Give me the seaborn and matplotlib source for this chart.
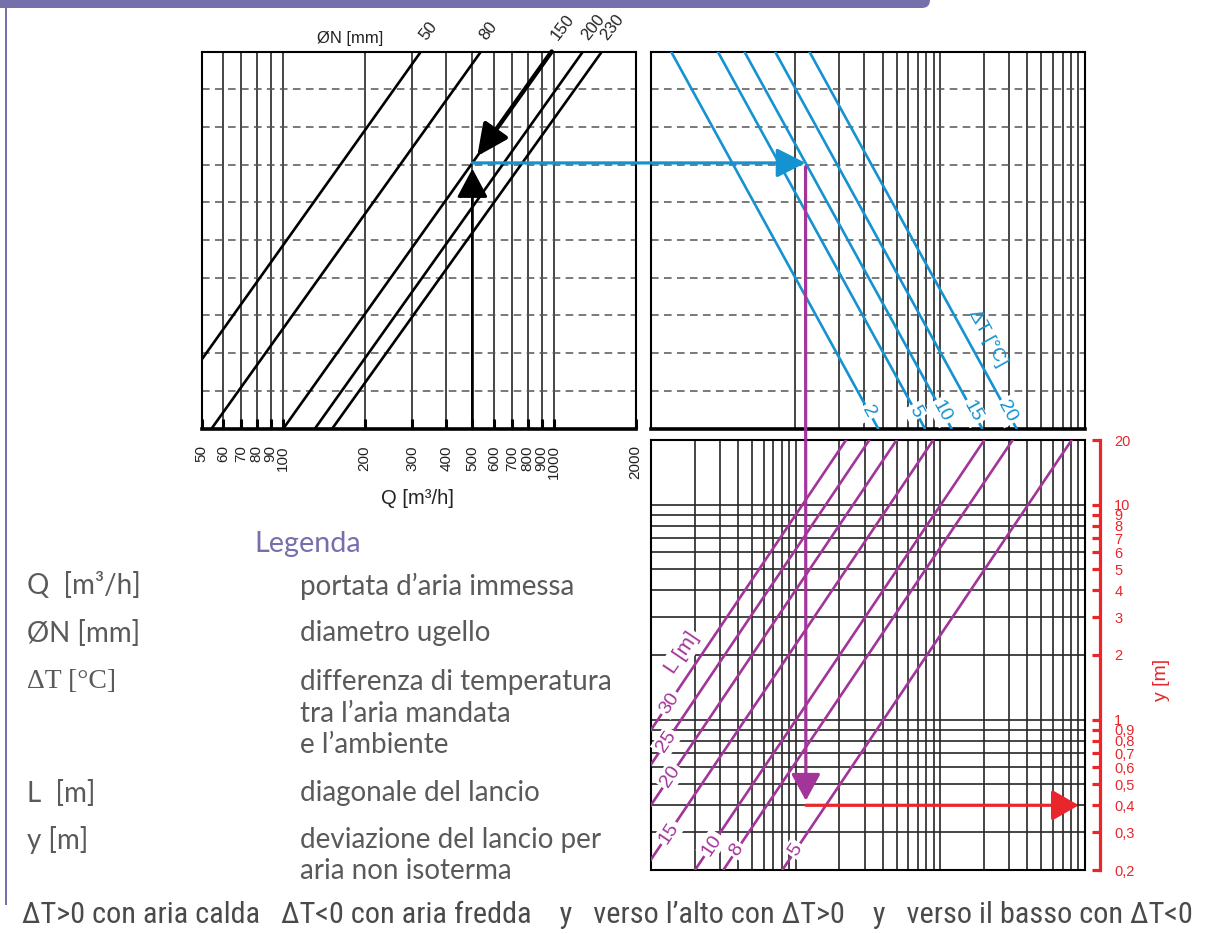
import numpy as np
import pandas as pd
import matplotlib
matplotlib.use("Agg")
import matplotlib.pyplot as plt
import seaborn as sns
from matplotlib.patches import ConnectionPatch, FancyBboxPatch, Rectangle
from matplotlib.ticker import NullLocator
from matplotlib import font_manager

# ---------------- data ----------------
# top-left: nozzle diameter lines, Q where each line meets the top (u=10) and bottom (u=0) edge
N_labels = ["50", "80", "150", "200", "230"]
N_Q_top = [323, 538, 981, 1280, 1504]
N_Q_bottom = [33.0, 54.5, 100.3, 131.2, 152.0]
Q_ticks = [50, 60, 70, 80, 90, 100, 200, 300, 400, 500, 600, 700, 800, 900, 1000, 2000]

# top-right: temperature-difference lines (x at top edge / bottom edge)
dT_labels = ["2", "5", "10", "15", "20"]
dT_x_top = [1.386, 2.911, 4.444, 7.240, 12.49]
dT_x_bottom = [37.3, 78.4, 119.7, 195.1, 336.5]

# bottom-right: throw-length lines (x at y=20 and at y=0.2)
L_labels = ["30", "25", "20", "15", "10", "8", "5"]
L_x_top = [22.3, 32.3, 49.9, 89.4, 201.4, 316.3, 809.0]
L_x_bottom = [0.223, 0.323, 0.499, 0.894, 2.014, 3.163, 8.09]
L_label_y = [1.196, 0.79, 0.543, 0.297, 0.261, 0.248, 0.248]

y_ticks = [20, 10, 9, 8, 7, 6, 5, 4, 3, 2, 1, 0.9, 0.8, 0.7, 0.6, 0.5, 0.4, 0.3, 0.2]
y_tick_labels = ["20", "10", "9", "8", "7", "6", "5", "4", "3", "2", "1",
                 "0,9", "0,8", "0,7", "0,6", "0,5", "0,4", "0,3", "0,2"]

grid_top_right = [10, 20, 30, 40, 50, 60, 70, 80, 90, 100, 200, 300, 400, 500, 600, 700, 800, 900]
grid_bottom_x = [2, 3, 4, 5, 6, 7, 8, 9] + grid_top_right
grid_bottom_y = [0.3, 0.4, 0.5, 0.6, 0.7, 0.8, 0.9, 1, 2, 3, 4, 5, 6, 7, 8, 9, 10]

# worked example
ex_Q, ex_N, ex_dT, ex_y = 500, "150", "10", 0.4

legend_left = ["Q  [m³/h]", "ØN [mm]", "ΔT [°C]", "", "", "L  [m]", "y [m]", ""]
legend_right = ["portata d\u2019aria immessa", "diametro ugello", "differenza di temperatura",
                "tra l\u2019aria mandata", "e l\u2019ambiente", "diagonale del lancio",
                "deviazione del lancio per", "aria non isoterma"]
bottom_note = ("\u0394T>0 con aria calda   \u0394T<0 con aria fredda    y   verso l\u2019alto con \u0394T>0    "
               "y   verso il basso con \u0394T<0")

# ---------------- style ----------------
BLUE = "#1592d0"
MAG = "#a2349a"
RED = "#e8262b"
PURP = "#7570ab"
GRAY = "#5a5a5a"
GRID = "#262626"

sns.set_theme(style="white")
plt.rcParams["font.family"] = ["Liberation Sans", "DejaVu Sans"]

names = {f.name for f in font_manager.fontManager.ttflist}
legend_font = ["Lato", "DejaVu Sans"] if "Lato" in names else ["DejaVu Sans"]
narrow = None
for cand in ["Liberation Sans Narrow", "Roboto Condensed", "Open Sans Condensed", "Noto Sans"]:
    if cand in names:
        narrow = cand
        break
narrow_font = [narrow, "DejaVu Sans"] if narrow else ["DejaVu Sans"]

W, H = 1211, 934
fig = plt.figure(figsize=(W / 100, H / 100), dpi=100)
fig.patch.set_facecolor("white")


def rect(x0, y0, x1, y1):
    return [x0 / W, 1 - y1 / H, (x1 - x0) / W, (y1 - y0) / H]


ax1 = fig.add_axes(rect(201.5, 51.5, 635.5, 428.5))
ax2 = fig.add_axes(rect(650.5, 51.5, 1085, 428.5))
ax3 = fig.add_axes(rect(651, 440, 1085, 870))

for ax in (ax1, ax2, ax3):
    ax.set_facecolor("white")
    ax.set_xscale("log")
ax3.set_yscale("log")


def long_df(labels, a, b, ya, yb):
    rows = []
    for lab, xa, xb in zip(labels, a, b):
        rows.append({"line": lab, "x": xa, "y": ya})
        rows.append({"line": lab, "x": xb, "y": yb})
    return pd.DataFrame(rows)


dfN = long_df(N_labels, N_Q_top, N_Q_bottom, 10, 0)
dfT = long_df(dT_labels, dT_x_top, dT_x_bottom, 10, 0)
dfL = long_df(L_labels, L_x_top, L_x_bottom, 20, 0.2)

sns.lineplot(data=dfN, x="x", y="y", units="line", estimator=None, sort=False,
             color="black", linewidth=1.9, ax=ax1, legend=False, zorder=3)
sns.lineplot(data=dfT, x="x", y="y", units="line", estimator=None, sort=False,
             color=BLUE, linewidth=1.9, ax=ax2, legend=False, zorder=3)
sns.lineplot(data=dfL, x="x", y="y", units="line", estimator=None, sort=False,
             color=MAG, linewidth=1.9, ax=ax3, legend=False, zorder=3)

# ---- axes limits / grids ----
ax1.set_xlim(50, 2000)
ax1.set_ylim(0, 10)
ax2.set_xlim(1, 1000)
ax2.set_ylim(0, 10)
ax3.set_xlim(1, 1000)
ax3.set_ylim(0.2, 20)

for ax in (ax1, ax2, ax3):
    ax.set_xlabel("")
    ax.set_ylabel("")
    for s in ax.spines.values():
        s.set_color("black")
        s.set_linewidth(1.5)
        s.set_visible(True)
    ax.xaxis.set_minor_locator(NullLocator())
    ax.yaxis.set_minor_locator(NullLocator())

ax1.set_xticks(Q_ticks)
ax1.set_xticklabels([str(q) for q in Q_ticks], rotation=90)
ax1.xaxis.set_minor_locator(NullLocator())
ax1.tick_params(axis="x", bottom=True, direction="in", length=7, width=2.2,
                color="black", pad=12, labelsize=11, labelcolor="#222222")
for ax in (ax1, ax2):
    ax.set_yticks(range(1, 10))
    ax.grid(axis="y", linestyle=(0, (5, 3.5)), color="#555555", linewidth=1.1)
    ax.tick_params(axis="y", left=False, labelleft=False, length=0)
    ax.spines["bottom"].set_linewidth(2.6)
ax1.grid(axis="x", color=GRID, linewidth=1.2)

ax2.set_xticks(grid_top_right)
ax2.xaxis.set_minor_locator(NullLocator())
ax2.grid(axis="x", color=GRID, linewidth=1.2)
ax2.tick_params(axis="x", bottom=False, labelbottom=False, length=0)

ax3.set_xticks(grid_bottom_x)
ax3.set_yticks(grid_bottom_y)
ax3.xaxis.set_minor_locator(NullLocator())
ax3.yaxis.set_minor_locator(NullLocator())
ax3.grid(True, which="major", color=GRID, linewidth=1.2)
ax3.tick_params(axis="both", bottom=False, left=False, labelbottom=False, labelleft=False, length=0)

# red y axis
ax3r = ax3.twinx()
ax3r.set_yscale("log")
ax3r.set_ylim(0.2, 20)
ax3r.set_yticks(y_ticks, labels=y_tick_labels)
ax3r.yaxis.set_minor_locator(NullLocator())
for s in ["left", "top", "bottom"]:
    ax3r.spines[s].set_visible(False)
ax3r.spines["right"].set_visible(True)
ax3r.spines["right"].set_position(("outward", 11))
ax3r.spines["right"].set_color(RED)
ax3r.spines["right"].set_linewidth(2.3)
ax3r.tick_params(axis="y", right=True, direction="in", length=5.5, width=2.3,
                 color=RED, labelcolor=RED, labelsize=10.5, pad=10)
ax3r.grid(False)
fig.text(1162 / W, 1 - 680 / H, "y [m]", rotation=90, color=RED, fontsize=14,
         ha="center", va="center")

# ---- line labels ----
box = dict(boxstyle="square,pad=0.12", fc="white", ec="none")
for lab, qt in zip(N_labels, N_Q_top):
    ax1.annotate(lab, xy=(qt, 10), xytext=(1.5, 9.5), textcoords="offset points",
                 rotation=52, rotation_mode="anchor", ha="left", va="center",
                 fontsize=12, color="#222222", annotation_clip=False)
fig.text(350 / W, 1 - 38 / H, "ØN [mm]", ha="center", va="center", fontsize=12, color="#222222")
fig.text(417 / W, 1 - 498 / H, "Q [m³/h]", ha="center", va="center", fontsize=14.5, color="#222222")


def x_on_line(u, xt, xb, ut=10.0, ub=0.0, lin=True):
    if lin:
        f = (u - ub) / (ut - ub)
    else:
        f = (np.log10(u) - np.log10(ub)) / (np.log10(ut) - np.log10(ub))
    return 10 ** (np.log10(xb) + f * (np.log10(xt) - np.log10(xb)))


def u_on_line(x, xt, xb):
    return 10 * (np.log10(x) - np.log10(xb)) / (np.log10(xt) - np.log10(xb))


for lab, xt, xb in zip(dT_labels, dT_x_top, dT_x_bottom):
    ul = 0.45
    ax2.text(x_on_line(ul, xt, xb), ul, lab, rotation=-61, rotation_mode="anchor",
             ha="center", va="center", fontsize=14, color=BLUE, bbox=box, zorder=5)
i20 = dT_labels.index("20")
uT = 2.4
ax2.annotate("ΔT [°C]", xy=(x_on_line(uT, dT_x_top[i20], dT_x_bottom[i20]), uT),
             xytext=(15, 0), textcoords="offset points", rotation=-61,
             rotation_mode="anchor", ha="center", va="center", fontsize=14, color=BLUE)

for lab, xt, xb, yl in zip(L_labels, L_x_top, L_x_bottom, L_label_y):
    xl = x_on_line(yl, xt, xb, ut=20, ub=0.2, lin=False)
    ax3.text(xl, yl, lab, rotation=56, rotation_mode="anchor", ha="center", va="center",
             fontsize=14, color=MAG, bbox=box, zorder=5)
i30 = L_labels.index("30")
yLm = 2.04
ax3.annotate("L [m]", xy=(x_on_line(yLm, L_x_top[i30], L_x_bottom[i30], ut=20, ub=0.2, lin=False), yLm),
             xytext=(-15, 0), textcoords="offset points", rotation=56, rotation_mode="anchor",
             ha="center", va="center", fontsize=15, color=MAG, bbox=box, zorder=5)

# ---- worked example arrows ----
iN = N_labels.index(ex_N)
iT = dT_labels.index(ex_dT)
u_ex = u_on_line(ex_Q, N_Q_top[iN], N_Q_bottom[iN])
x_ex = x_on_line(u_ex, dT_x_top[iT], dT_x_bottom[iT])

# thick arrow down along the nozzle line
u_tip = u_ex + 0.18
q_tip = x_on_line(u_tip, N_Q_top[iN], N_Q_bottom[iN])
ax1.annotate("", xy=(q_tip, u_tip), xytext=(N_Q_top[iN], 10),
             arrowprops=dict(arrowstyle="-|>,head_length=1.9,head_width=0.9", mutation_scale=10,
                             color="black", lw=3.2, shrinkA=0, shrinkB=0),
             annotation_clip=False, zorder=6)
# arrow up from Q
ax1.annotate("", xy=(ex_Q, u_ex - 0.15), xytext=(ex_Q, 0),
             arrowprops=dict(arrowstyle="-|>,head_length=1.8,head_width=0.96", mutation_scale=10,
                             color="black", lw=2.0, shrinkA=0, shrinkB=0),
             annotation_clip=False, zorder=6)
# blue horizontal
cp = ConnectionPatch(xyA=(ex_Q, u_ex), coordsA="data", axesA=ax1,
                     xyB=(x_ex, u_ex), coordsB="data", axesB=ax2,
                     arrowstyle="-|>,head_length=1.78,head_width=0.9", mutation_scale=10,
                     color=BLUE, lw=2.3, shrinkA=0, shrinkB=0, zorder=7)
fig.add_artist(cp)
# magenta vertical
cp2 = ConnectionPatch(xyA=(x_ex, u_ex - 0.1), coordsA="data", axesA=ax2,
                      xyB=(x_ex, ex_y * 1.05), coordsB="data", axesB=ax3,
                      arrowstyle="-|>,head_length=1.65,head_width=0.9", mutation_scale=10,
                      color=MAG, lw=2.3, shrinkA=0, shrinkB=0, zorder=7)
fig.add_artist(cp2)
# red horizontal
ax3.annotate("", xy=(ax3.get_xlim()[1] * 0.905, ex_y), xytext=(x_ex, ex_y),
             arrowprops=dict(arrowstyle="-|>,head_length=1.65,head_width=0.95", mutation_scale=10,
                             color=RED, lw=2.3, shrinkA=0, shrinkB=0),
             annotation_clip=False, zorder=7)

# ---- frame decorations ----
fig.patches.append(FancyBboxPatch((-0.2, (H - 8) / 100), 9.5, 0.4,
                                  boxstyle="round,pad=0,rounding_size=0.08",
                                  transform=fig.dpi_scale_trans, fc=PURP, ec="none"))
fig.patches.append(Rectangle((0.05, (H - 905) / 100), 0.022, 8.97,
                             transform=fig.dpi_scale_trans, fc=PURP, ec="none"))

# ---- legend text ----
renderer = fig.canvas.get_renderer()


def fit(t, width_px):
    bb = t.get_window_extent(renderer)
    t.set_fontsize(t.get_fontsize() * width_px / bb.width)
    return t


t = fig.text(308 / W, 1 - 544 / H, "Legenda", ha="center", va="center",
             color=PURP, family=legend_font, fontsize=16)
fit(t, 107)

probe = fig.text(0, 0, legend_right[2], family=legend_font, fontsize=14)
fit(probe, 312)
fs_leg = probe.get_fontsize()
probe.remove()

rows_y = [586, 633, 682, 714, 745, 793, 840, 871]
for ly, rl, rr in zip(rows_y, legend_left, legend_right):
    if rl:
        fam = ["Liberation Serif", "DejaVu Serif"] if rl.startswith("Δ") else legend_font
        fig.text(27 / W, 1 - ly / H, rl, ha="left", va="center", color=GRAY,
                 family=fam, fontsize=fs_leg)
    fig.text(300 / W, 1 - ly / H, rr, ha="left", va="center", color=GRAY,
             family=legend_font, fontsize=fs_leg)

tb = fig.text(22 / W, 1 - 915 / H, bottom_note, ha="left", va="center", color="#4a4a4a",
              family=narrow_font, fontsize=13)
fit(tb, 1163)

fig.savefig("out.png", dpi=100, facecolor="white")
